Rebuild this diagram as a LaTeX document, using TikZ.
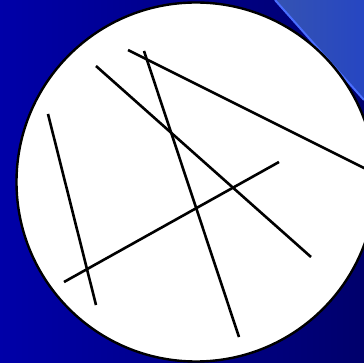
\documentclass[tikz,border=0pt]{standalone}
\begin{document}
\begin{tikzpicture}[x=1pt,y=-1pt,
  stroke/.style={line width=2.6pt,black},
  rim/.style={line width=2.4pt,draw=black,fill=white}]
\definecolor{bgl}{HTML}{0000A8}
\definecolor{bgr}{HTML}{00006C}
\definecolor{tril}{HTML}{3553B2}
\definecolor{trir}{HTML}{2646C2}
\definecolor{triedge}{HTML}{4A6EFF}
\useasboundingbox (0,0) rectangle (364,363);
\begin{scope}
\clip (0,0) rectangle (364,363);
\shade[left color=bgl,right color=bgr] (0,0) rectangle (364,363);
\shade[left color=tril,right color=trir] (275,0) -- (364,0) -- (364,100) -- cycle;
\draw[triedge,line width=2pt] (275,0) -- (364,100);
\node[circle,rim,minimum size=359pt,inner sep=0pt] (disk) at (196,182) {};
\coordinate (a1) at (128,50);  \coordinate (a2) at (380,176);
\coordinate (b1) at (144,51);  \coordinate (b2) at (239,337);
\coordinate (c1) at (96,66);   \coordinate (c2) at (311,257);
\coordinate (d1) at (48,114);  \coordinate (d2) at (96,305);
\coordinate (e1) at (64,282);  \coordinate (e2) at (279,162);
\draw[stroke] (a1) -- (a2);
\draw[stroke] (b1) -- (b2);
\draw[stroke] (c1) -- (c2);
\draw[stroke] (d1) -- (d2);
\draw[stroke] (e1) -- (e2);
\end{scope}
\end{tikzpicture}
\end{document}
